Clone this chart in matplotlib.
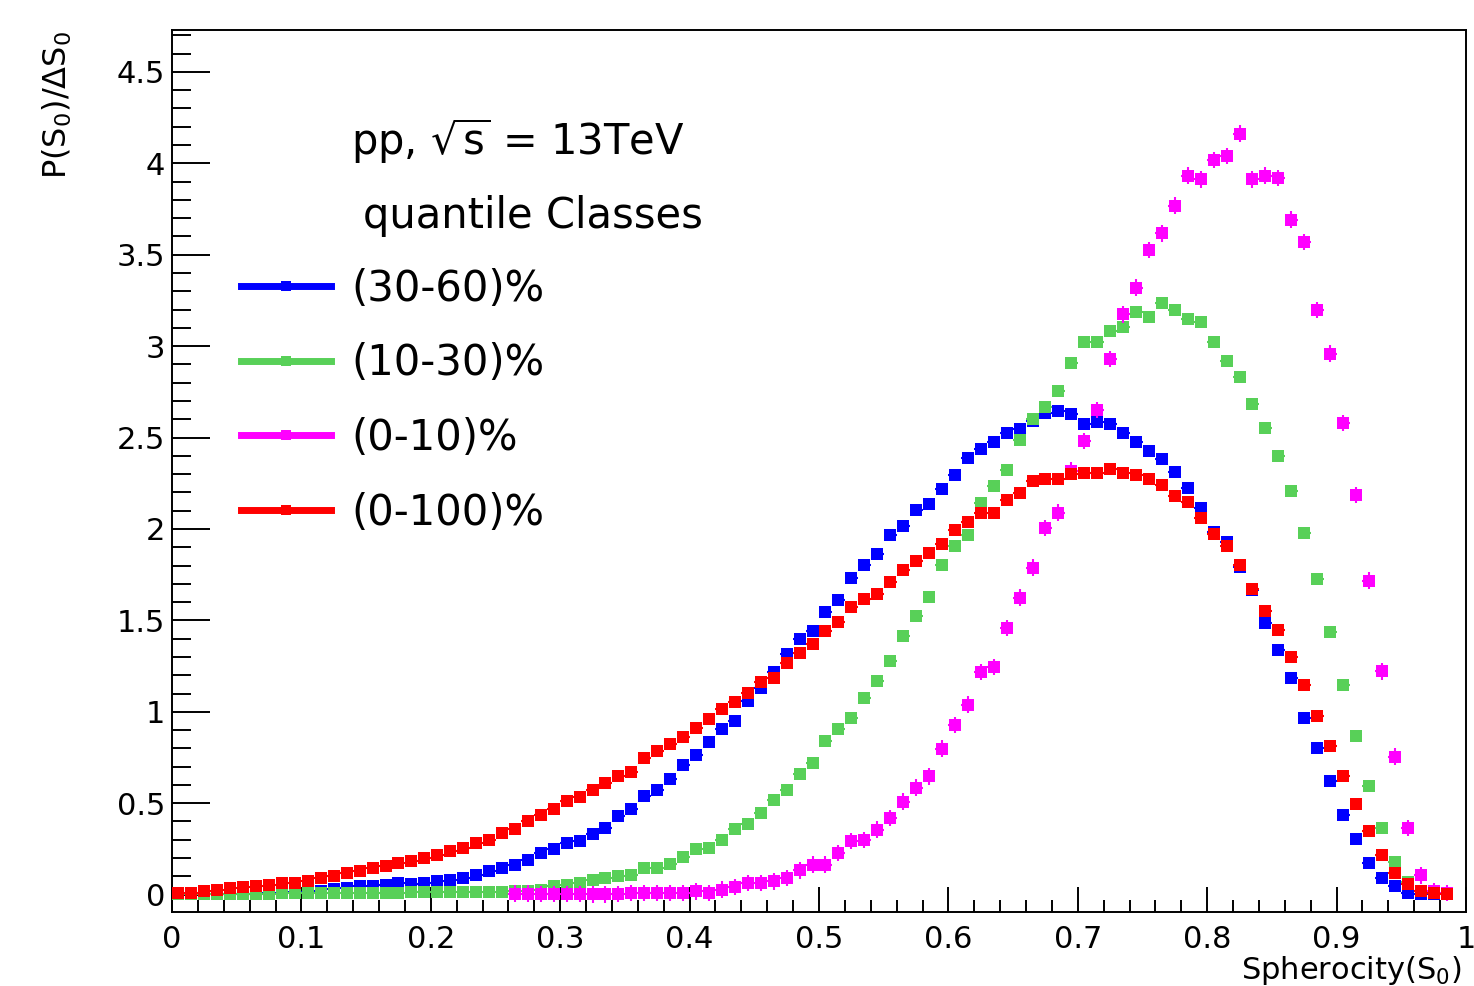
import numpy as np
import matplotlib
matplotlib.use("Agg")
import matplotlib.pyplot as plt
from matplotlib.lines import Line2D
from matplotlib.ticker import MultipleLocator, FormatStrFormatter

nan = np.nan

# spherocity bins, 100 bins of width 0.01 between 0 and 1
edges = np.linspace(0.0, 1.0, 101)
s0 = 0.5 * (edges[:-1] + edges[1:])

labels = ["(30-60)%", "(10-30)%", "(0-10)%", "(0-100)%"]
colors = ["#0000ff", "#58d058", "#ff00ff", "#ff0000"]

q30_60 = [
    0.003, 0.003, 0.004, 0.003, 0.005, 0.004, 0.007, 0.010, 0.012, 0.015,
    0.016, 0.020, 0.030, 0.038, 0.045, 0.047, 0.051, 0.061, 0.056, 0.066,
    0.073, 0.081, 0.091, 0.108, 0.130, 0.144, 0.162, 0.189, 0.228, 0.247,
    0.283, 0.292, 0.334, 0.365, 0.429, 0.470, 0.539, 0.572, 0.634, 0.707,
    0.762, 0.835, 0.908, 0.950, 1.060, 1.132, 1.220, 1.315, 1.397, 1.443,
    1.547, 1.613, 1.730, 1.803, 1.863, 1.967, 2.018, 2.106, 2.135, 2.218,
    2.296, 2.386, 2.435, 2.475, 2.524, 2.547, 2.590, 2.632, 2.643, 2.627,
    2.576, 2.587, 2.576, 2.524, 2.475, 2.424, 2.381, 2.309, 2.224, 2.115,
    1.986, 1.929, 1.794, 1.665, 1.488, 1.336, 1.184, 0.964, 0.800, 0.620,
    0.434, 0.305, 0.171, 0.090, 0.048, 0.010, 0.004, 0.001, nan, nan,
]

q10_30 = [
    0.003, 0.003, 0.004, 0.004, 0.004, 0.004, 0.005, 0.006, 0.007, 0.007,
    0.008, 0.008, 0.009, 0.010, 0.010, 0.010, 0.011, 0.011, 0.012, 0.012,
    0.013, 0.013, 0.014, 0.015, 0.016, 0.017, 0.019, 0.022, 0.027, 0.046,
    0.055, 0.064, 0.082, 0.091, 0.100, 0.110, 0.146, 0.146, 0.170, 0.206,
    0.247, 0.256, 0.298, 0.360, 0.384, 0.447, 0.520, 0.575, 0.658, 0.721,
    0.840, 0.904, 0.968, 1.078, 1.169, 1.279, 1.416, 1.525, 1.626, 1.802,
    1.905, 1.965, 2.144, 2.234, 2.323, 2.487, 2.603, 2.665, 2.755, 2.905,
    3.023, 3.023, 3.084, 3.106, 3.186, 3.158, 3.238, 3.200, 3.150, 3.133,
    3.025, 2.919, 2.830, 2.682, 2.552, 2.401, 2.209, 1.980, 1.728, 1.436,
    1.144, 0.869, 0.592, 0.363, 0.176, 0.067, 0.020, 0.008, nan, nan,
]

q0_10 = [
    nan, nan, nan, nan, nan, nan, nan, nan, nan, nan,
    nan, nan, nan, nan, nan, nan, nan, nan, nan, nan,
    nan, nan, nan, nan, nan, nan, 0.005, 0.005, 0.004, 0.002,
    0.002, 0.002, 0.001, 0.001, 0.002, 0.009, 0.009, 0.009, 0.009, 0.009,
    0.018, 0.009, 0.027, 0.042, 0.064, 0.064, 0.073, 0.091, 0.133, 0.164,
    0.164, 0.228, 0.292, 0.300, 0.356, 0.420, 0.509, 0.585, 0.647, 0.799,
    0.928, 1.039, 1.218, 1.245, 1.458, 1.625, 1.789, 2.005, 2.090, 2.319,
    2.482, 2.650, 2.930, 3.173, 3.320, 3.526, 3.617, 3.769, 3.932, 3.912,
    4.018, 4.041, 4.162, 3.912, 3.932, 3.921, 3.692, 3.569, 3.197, 2.959,
    2.581, 2.186, 1.717, 1.221, 0.755, 0.363, 0.105, 0.019, 0.008, nan,
]

q0_100 = [
    0.009, 0.010, 0.019, 0.028, 0.037, 0.040, 0.046, 0.055, 0.064, 0.064,
    0.073, 0.092, 0.101, 0.119, 0.128, 0.146, 0.155, 0.174, 0.183, 0.201,
    0.219, 0.238, 0.256, 0.283, 0.301, 0.335, 0.360, 0.400, 0.438, 0.470,
    0.510, 0.533, 0.572, 0.608, 0.648, 0.670, 0.749, 0.785, 0.822, 0.864,
    0.913, 0.959, 1.014, 1.054, 1.105, 1.163, 1.187, 1.269, 1.320, 1.370,
    1.443, 1.492, 1.571, 1.616, 1.647, 1.711, 1.777, 1.826, 1.867, 1.916,
    1.995, 2.039, 2.090, 2.090, 2.158, 2.196, 2.263, 2.274, 2.274, 2.301,
    2.307, 2.307, 2.330, 2.307, 2.296, 2.272, 2.243, 2.180, 2.146, 2.060,
    1.974, 1.908, 1.803, 1.674, 1.551, 1.450, 1.299, 1.144, 0.978, 0.812,
    0.649, 0.497, 0.348, 0.219, 0.119, 0.056, 0.019, 0.008, 0.004, nan,
]

# statistical uncertainty per class (roughly constant, read off the caps)
errors = [0.012, 0.018, 0.045, 0.008]
series = [q30_60, q10_30, q0_10, q0_100]

W, H = 1474, 986


def fx(px):
    return px / W


def fy(py):
    return 1 - py / H


plt.rcParams["font.family"] = "DejaVu Sans"
plt.rcParams["mathtext.fontset"] = "dejavusans"

fig = plt.figure(figsize=(W / 100, H / 100), dpi=100)
ax = fig.add_axes([fx(172), fy(912), fx(1466) - fx(172), fy(30) - fy(912)])

for i, (vals, c, err) in enumerate(zip(series, colors, errors)):
    ax.errorbar(s0, vals, xerr=0.005, yerr=err, fmt="s", color=c, ms=8.5,
                mew=0, elinewidth=1.5, capsize=3, capthick=1.5, zorder=3 + i)

ax.set_xlim(0, 1)
ax.set_ylim(-0.095, 4.729)
ax.xaxis.set_major_locator(MultipleLocator(0.1))
ax.xaxis.set_minor_locator(MultipleLocator(0.02))
ax.yaxis.set_major_locator(MultipleLocator(0.5))
ax.yaxis.set_minor_locator(MultipleLocator(0.1))
ax.xaxis.set_major_formatter(FormatStrFormatter("%g"))
ax.yaxis.set_major_formatter(FormatStrFormatter("%g"))

ax.tick_params(axis="x", which="major", direction="in", length=18, width=1.4,
               pad=9, labelsize=22, top=False)
ax.tick_params(axis="x", which="minor", direction="in", length=8.5, width=1.4,
               top=False)
ax.tick_params(axis="y", which="major", direction="in", length=27, width=1.4,
               pad=5, labelsize=22, right=False)
ax.tick_params(axis="y", which="minor", direction="in", length=13.5, width=1.4,
               right=False)
for sp in ax.spines.values():
    sp.set_linewidth(1.4)

fig.text(fx(1462), fy(979), r"Spherocity($\mathregular{S_0}$)", ha="right",
         va="baseline", fontsize=22)
fig.text(fx(57), fy(31), r"P($\mathregular{S_0}$)/$\Delta\mathregular{S_0}$",
         rotation=90, ha="center", va="top", fontsize=23)

fig.text(fx(351), fy(155), r"pp, $\sqrt{\mathregular{s}}$ = 13TeV",
         fontsize=30, va="baseline")
fig.text(fx(363), fy(228), "quantile Classes", fontsize=30, va="baseline")

handles = [Line2D([0], [0], color=c, lw=5, marker="s", ms=7, mew=0)
           for c in colors]
ax.legend(handles, labels, loc="upper left",
          bbox_to_anchor=(fx(241), fy(268)), bbox_transform=fig.transFigure,
          frameon=False, fontsize=30, handlelength=2.16, handletextpad=0.48,
          labelspacing=0.78, borderpad=0, borderaxespad=0)

fig.savefig("out.png", dpi=100)
